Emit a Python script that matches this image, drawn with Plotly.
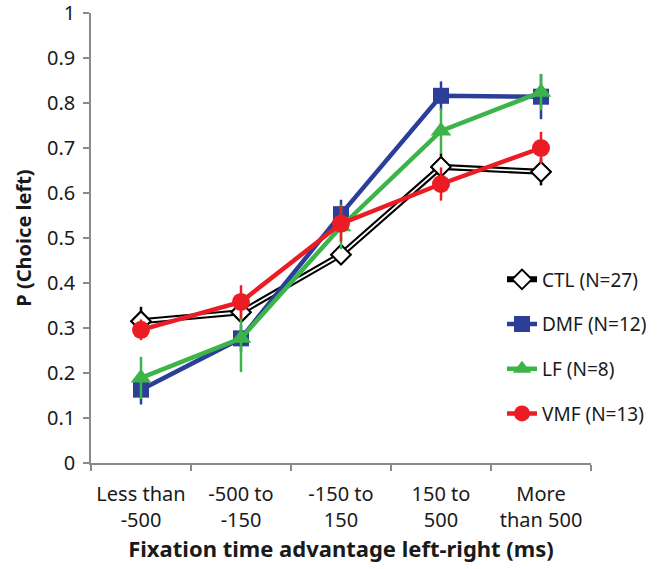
import plotly.graph_objects as go

categories = ["Less than<br>-500", "-500 to<br>-150", "-150 to<br>150", "150 to<br>500", "More<br>than 500"]

ctl = [0.315, 0.335, 0.463, 0.658, 0.647]
ctl_err = [0.032, 0.02, 0.02, 0.03, 0.03]
dmf = [0.163, 0.277, 0.553, 0.816, 0.814]
dmf_err = [0.033, 0.03, 0.032, 0.032, 0.05]
lf = [0.189, 0.277, 0.525, 0.738, 0.824]
lf_err = [0.047, 0.075, 0.05, 0.05, 0.04]
vmf = [0.296, 0.358, 0.532, 0.62, 0.70]
vmf_err = [0.023, 0.037, 0.04, 0.037, 0.036]

y_ticks = [0, 0.1, 0.2, 0.3, 0.4, 0.5, 0.6, 0.7, 0.8, 0.9, 1]
y_ticktext = ["0", "0.1", "0.2", "0.3", "0.4", "0.5", "0.6", "0.7", "0.8", "0.9", "1"]

xi = list(range(len(categories)))

FONT = "Noto Sans"
TXT = "#1a1a1a"
BLUE = "#2b3f99"
GREEN = "#3cb44a"
RED = "#ec1c24"
AX = "#8a8a8a"

fig = go.Figure()

# CTL: black double line with white diamonds
fig.add_trace(go.Scatter(
    x=xi, y=ctl, mode="lines+markers", name="CTL (N=27)", legendgroup="a",
    line=dict(color="black", width=6),
    marker=dict(symbol="diamond", size=15, color="white", line=dict(color="black", width=2)),
    error_y=dict(type="data", array=ctl_err, color="black", thickness=2.5, width=0),
))
fig.add_trace(go.Scatter(
    x=xi, y=ctl, mode="lines", showlegend=False, hoverinfo="skip", legendgroup="a",
    line=dict(color="white", width=1.8),
))
fig.add_trace(go.Scatter(
    x=xi, y=ctl, mode="markers", showlegend=False, hoverinfo="skip", legendgroup="a",
    marker=dict(symbol="diamond", size=15, color="white", line=dict(color="black", width=2)),
))

fig.add_trace(go.Scatter(
    x=xi, y=dmf, mode="lines+markers", name="DMF (N=12)", legendgroup="b",
    line=dict(color=BLUE, width=4.5),
    marker=dict(symbol="square", size=16, color=BLUE),
    error_y=dict(type="data", array=dmf_err, color=BLUE, thickness=2.5, width=0),
))
fig.add_trace(go.Scatter(
    x=xi, y=lf, mode="lines+markers", name="LF (N=8)", legendgroup="c",
    line=dict(color=GREEN, width=4.5),
    marker=dict(symbol="triangle-up", size=18, color=GREEN),
    error_y=dict(type="data", array=lf_err, color=GREEN, thickness=2.5, width=0),
))
fig.add_trace(go.Scatter(
    x=xi, y=vmf, mode="lines+markers", name="VMF (N=13)", legendgroup="d",
    line=dict(color=RED, width=4.5),
    marker=dict(symbol="circle", size=18, color=RED),
    error_y=dict(type="data", array=vmf_err, color=RED, thickness=2.5, width=0),
))

fig.update_layout(
    width=664, height=569,
    margin=dict(l=91, r=67, t=13, b=106),
    paper_bgcolor="white", plot_bgcolor="white",
    font=dict(family=FONT, size=19, color=TXT),
    showlegend=True,
    legend=dict(x=0.822, y=0.45, xanchor="left", yanchor="top",
                font=dict(family=FONT, size=19, color=TXT),
                bgcolor="rgba(0,0,0,0)", traceorder="grouped", tracegroupgap=17,
                itemwidth=30, borderwidth=0),
)

fig.update_xaxes(
    range=[-0.5, 4.5], tickmode="array", tickvals=xi, ticktext=categories,
    tickangle=0, ticks="outside", ticklen=6, tickcolor="rgba(0,0,0,0)",
    minor=dict(tickmode="linear", tick0=-0.5, dtick=1, ticks="outside", ticklen=6,
               tickcolor=AX, tickwidth=1.5, showgrid=False),
    showline=True, linecolor=AX, linewidth=1.5, showgrid=False, zeroline=False,
    automargin=False, ticklabelstandoff=6,
    tickfont=dict(family=FONT, size=20, color=TXT),
    title=dict(text="<b>Fixation time advantage left-right (ms)</b>",
               font=dict(family=FONT, size=22, color=TXT), standoff=10),
)
fig.update_yaxes(
    range=[0, 1], tickvals=y_ticks, ticktext=y_ticktext,
    ticks="outside", ticklen=6, tickcolor=AX, tickwidth=1.5,
    showline=True, linecolor=AX, linewidth=1.5, showgrid=False, zeroline=False,
    automargin=False, ticklabelstandoff=4, ticklabeloverflow="allow",
    tickfont=dict(family=FONT, size=20, color=TXT),
    title=dict(text="<b>P (Choice left)</b>",
               font=dict(family=FONT, size=20, color=TXT), standoff=10),
)

fig.write_html("out.html")
